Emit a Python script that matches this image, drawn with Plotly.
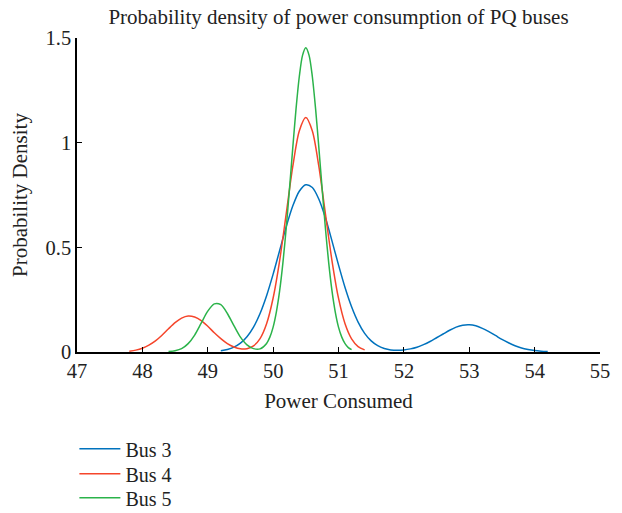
import plotly.graph_objects as go

# ---- data ----
bus3_x = [49.2, 49.3, 49.4, 49.5, 49.6, 49.7, 49.8, 49.9, 50.0, 50.1, 50.2, 50.3, 50.4, 50.5,
          50.6, 50.7, 50.8, 50.9, 51.0, 51.1, 51.2, 51.3, 51.4, 51.5, 51.6, 51.7, 51.8, 51.9,
          52.0, 52.1, 52.2, 52.3, 52.4, 52.5, 52.6, 52.7, 52.8, 52.9, 53.0, 53.1, 53.2, 53.3,
          53.4, 53.5, 53.6, 53.7, 53.8, 53.9, 54.0, 54.1, 54.2]
bus3_y = [0.006, 0.012, 0.023, 0.042, 0.073, 0.119, 0.184, 0.269, 0.372, 0.485, 0.598, 0.697,
          0.768, 0.799, 0.786, 0.730, 0.641, 0.531, 0.416, 0.308, 0.216, 0.143, 0.089, 0.053,
          0.030, 0.017, 0.010, 0.008, 0.010, 0.015, 0.023, 0.035, 0.050, 0.068, 0.086, 0.104,
          0.119, 0.128, 0.130, 0.125, 0.113, 0.097, 0.079, 0.060, 0.044, 0.030, 0.019, 0.012,
          0.007, 0.004, 0.002]

bus4_x = [47.8, 47.9, 48.0, 48.1, 48.2, 48.3, 48.4, 48.5, 48.6, 48.7, 48.8, 48.9, 49.0, 49.1,
          49.2, 49.3, 49.4, 49.5, 49.6, 49.7, 49.8, 49.9, 50.0, 50.1, 50.2, 50.3, 50.4, 50.5,
          50.6, 50.7, 50.8, 50.9, 51.0, 51.1, 51.2, 51.3, 51.4]
bus4_y = [0.004, 0.009, 0.018, 0.033, 0.053, 0.080, 0.111, 0.140, 0.162, 0.172, 0.167, 0.150,
          0.123, 0.092, 0.064, 0.040, 0.024, 0.015, 0.016, 0.029, 0.064, 0.135, 0.258, 0.437,
          0.660, 0.885, 1.056, 1.120, 1.056, 0.885, 0.660, 0.437, 0.257, 0.135, 0.063, 0.026,
          0.010]

bus5_x = [48.4, 48.5, 48.6, 48.7, 48.8, 48.9, 49.0, 49.1, 49.2, 49.3, 49.4, 49.5, 49.6, 49.7,
          49.8, 49.9, 49.95, 50.0, 50.05, 50.1, 50.15, 50.2, 50.25, 50.3, 50.35, 50.4, 50.45,
          50.5, 50.55, 50.6, 50.65, 50.7, 50.75, 50.8, 50.85, 50.9, 50.95, 51.0, 51.05, 51.1,
          51.15, 51.2]
bus5_y = [0.002, 0.006, 0.016, 0.040, 0.081, 0.138, 0.195, 0.230, 0.226, 0.184, 0.126, 0.071,
          0.034, 0.016, 0.015, 0.041, 0.071, 0.119, 0.192, 0.293, 0.427, 0.591, 0.778, 0.974,
          1.160, 1.315, 1.417, 1.453, 1.417, 1.315, 1.160, 0.974, 0.778, 0.591, 0.427, 0.293,
          0.192, 0.119, 0.071, 0.040, 0.021, 0.011]

series_names = ["Bus 3", "Bus 4", "Bus 5"]
x_ticks = [47, 48, 49, 50, 51, 52, 53, 54, 55]
y_ticks = [0, 0.5, 1, 1.5]
y_tick_text = ["0", "0.5", "1", "1.5"]

colors = ["#0072BD", "#F5452B", "#2BB34A"]
FONT = "Liberation Serif, Times New Roman, serif"
TXT = "#222"
legend_ids = ["legend", "legend2", "legend3"]
legend_tops = [0.1632, 0.1144, 0.0676]

fig = go.Figure()
for name, xs, ys, c, lg in zip(series_names, [bus3_x, bus4_x, bus5_x],
                               [bus3_y, bus4_y, bus5_y], colors, legend_ids):
    fig.add_trace(go.Scatter(x=xs, y=ys, mode="lines", name=name, legend=lg,
                             line=dict(color=c, width=1.5, shape="spline", smoothing=0.8)))

legend_style = dict(x=-0.005, xanchor="left", xref="paper", yanchor="top", yref="container",
                    orientation="v", bgcolor="rgba(0,0,0,0)",
                    font=dict(family=FONT, size=20, color=TXT), itemwidth=41)

fig.update_layout(
    width=622, height=513,
    margin=dict(l=77, r=22, t=38, b=161, autoexpand=False),
    paper_bgcolor="white", plot_bgcolor="white",
    font=dict(family=FONT, size=20, color=TXT),
    title=dict(text="Probability density of power consumption of PQ buses",
               x=0.5, xref="paper", xanchor="center", y=0.968, yanchor="middle",
               font=dict(family=FONT, size=21, color=TXT)),
    showlegend=True,
    legend=dict(y=legend_tops[0], **legend_style),
    legend2=dict(y=legend_tops[1], **legend_style),
    legend3=dict(y=legend_tops[2], **legend_style),
)
fig.update_xaxes(range=[47, 55], tickvals=x_ticks, ticks="inside", ticklen=5,
                 tickcolor="black", tickwidth=1.2, showline=True, linecolor="black",
                 linewidth=1.5, showgrid=False, zeroline=False, mirror=False,
                 automargin=False,
                 tickfont=dict(family=FONT, size=20.5, color=TXT),
                 title=dict(text="Power Consumed", standoff=12,
                            font=dict(family=FONT, size=21, color=TXT)))
fig.update_yaxes(range=[0, 1.5], tickvals=y_ticks, ticktext=y_tick_text, ticks="inside",
                 ticklen=5, tickcolor="black", tickwidth=1.2, showline=True,
                 linecolor="black", linewidth=1.5, showgrid=False, zeroline=False,
                 automargin=False,
                 tickfont=dict(family=FONT, size=20.5, color=TXT),
                 title=dict(text="Probability Density", standoff=12,
                            font=dict(family=FONT, size=21, color=TXT)))

fig.write_html("out.html")
